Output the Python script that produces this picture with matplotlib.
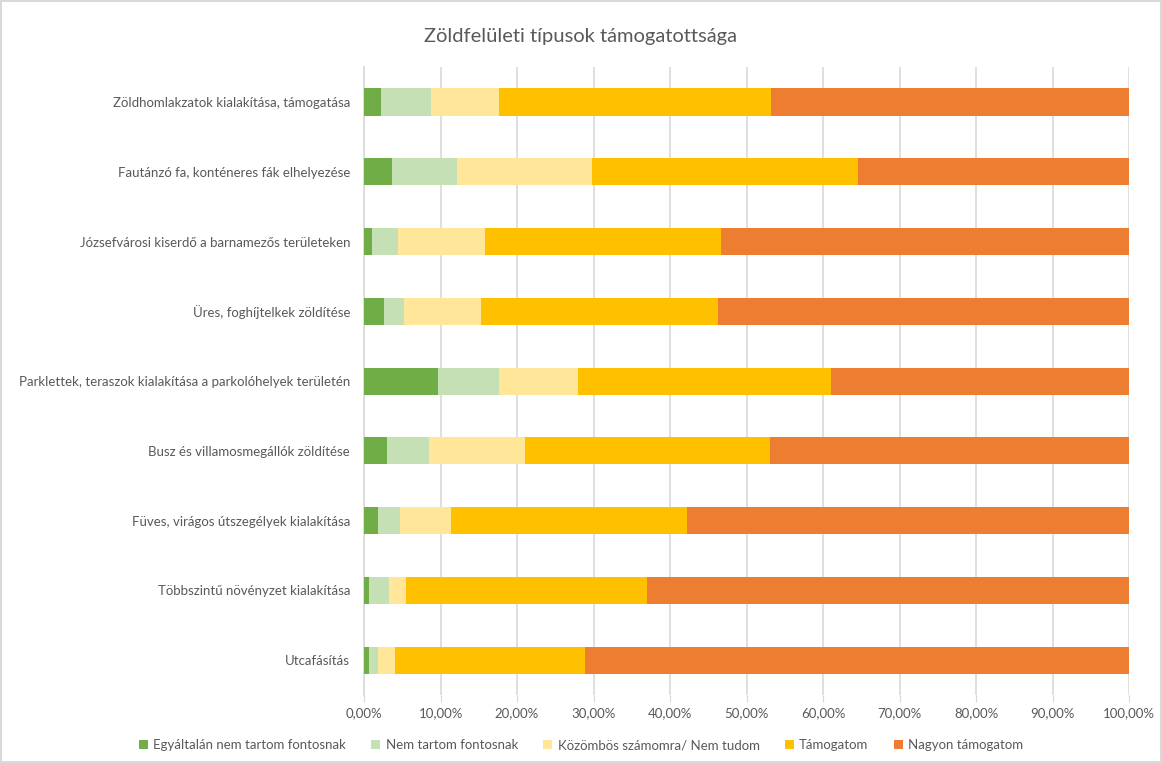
import matplotlib.pyplot as plt
from matplotlib.ticker import FuncFormatter, MultipleLocator
import numpy as np

plt.rcParams["font.family"] = ["Lato", "DejaVu Sans"]

CATEGORIES = [
    "Zöldhomlakzatok kialakítása, támogatása",
    "Fautánzó fa, konténeres fák elhelyezése",
    "Józsefvárosi kiserdő a barnamezős területeken",
    "Üres, foghíjtelkek zöldítése",
    "Parklettek, teraszok kialakítása a parkolóhelyek területén",
    "Busz és villamosmegállók zöldítése",
    "Füves, virágos útszegélyek kialakítása",
    "Többszintű növényzet kialakítása",
    "Utcafásítás",
]

SERIES = [
    "Egyáltalán nem tartom fontosnak",
    "Nem tartom fontosnak",
    "Közömbös számomra/ Nem tudom",
    "Támogatom",
    "Nagyon támogatom",
]

# shares in percent, top row first
egyaltalan = [2.2, 3.7, 1.1, 2.6, 9.7, 3.0, 1.8, 0.7, 0.7]
nem = [6.6, 8.5, 3.3, 2.6, 7.9, 5.5, 2.9, 2.6, 1.1]
kozombos = [8.8, 17.6, 11.4, 10.1, 10.4, 12.5, 6.7, 2.2, 2.2]
tamogatom = [35.6, 34.8, 30.9, 31.0, 33.0, 32.1, 30.8, 31.5, 24.9]
nagyon = [100 - a - b - c - d for a, b, c, d in zip(egyaltalan, nem, kozombos, tamogatom)]

COLORS = ["#70AD47", "#C5E0B4", "#FFE699", "#FFC000", "#ED7D31"]
TEXT = "#595959"

fig = plt.figure(figsize=(11.62, 7.63), dpi=100)
fig.patch.set_edgecolor("#d9d9d9")
fig.patch.set_linewidth(1.5)
ax = fig.add_axes([0.3133, 0.089, 0.6583, 0.823])

y = np.arange(len(CATEGORIES))
left = np.zeros(len(CATEGORIES))
for name, vals, col in zip(SERIES, [egyaltalan, nem, kozombos, tamogatom, nagyon], COLORS):
    vals = np.array(vals) / 100
    ax.barh(y, vals, left=left, height=0.39, color=col, label=name, zorder=3)
    left += vals

ax.set_xlim(0, 1)
ax.set_ylim(len(CATEGORIES) - 0.5, -0.5)
ax.set_yticks(y)
ax.set_yticklabels(CATEGORIES, fontsize=9.5, color=TEXT)
ax.xaxis.set_major_locator(MultipleLocator(0.1))
ax.xaxis.set_major_formatter(FuncFormatter(lambda v, p: f"{v*100:.2f}%".replace(".", ",")))
ax.tick_params(axis="x", colors="#d9d9d9", labelcolor=TEXT, labelsize=9.5, length=5, pad=4)
ax.tick_params(axis="y", length=0, pad=10)
ax.grid(axis="x", color="#d9d9d9", linewidth=1.2, zorder=0)
for s in ["top", "right", "bottom"]:
    ax.spines[s].set_visible(False)
ax.spines["left"].set_color("#d9d9d9")
ax.spines["left"].set_linewidth(1.2)

fig.text(0.5, 0.952, "Zöldfelületi típusok támogatottsága", ha="center", va="center",
         fontsize=14.5, color=TEXT)

fig.legend(loc="center", bbox_to_anchor=(0.5, 0.023), ncol=5, frameon=False,
           fontsize=9.5, labelcolor=TEXT, handlelength=0.7, handleheight=0.7,
           handletextpad=0.4, columnspacing=1.9)

fig.savefig("out.png", dpi=100, edgecolor=fig.get_edgecolor())
